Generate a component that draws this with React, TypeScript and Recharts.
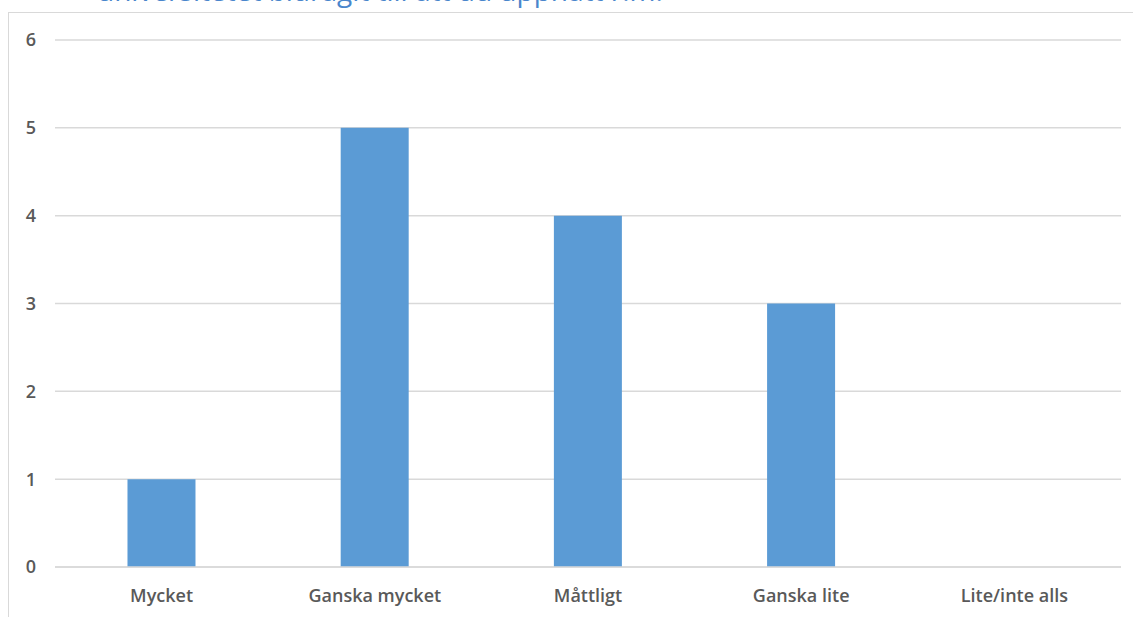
import { Bar, BarChart, CartesianGrid, XAxis, YAxis } from 'recharts';

const categories = ['Mycket', 'Ganska mycket', 'Måttligt', 'Ganska lite', 'Lite/inte alls'];
const answers = [1, 5, 4, 3, 0];
const yTicks = [0, 1, 2, 3, 4, 5, 6];
const title = 'universitetet bidragit till att du uppnått r.m.';

const rows = categories.map((name, i) => ({ name, value: answers[i] }));

const font = '"Open Sans", "DejaVu Sans", sans-serif';
const tick = { fontSize: 18, fontWeight: 600, fill: '#595959', fontFamily: font };

export default function App() {
  return (
    <div style={{ position: 'absolute', left: 0, top: 0, width: 1133, height: 617, overflow: 'hidden', background: '#fff' }}>
      {/* heading, partly cut off above the frame */}
      <div style={{ position: 'absolute', left: 0, top: 0, width: 1133, height: 12, overflow: 'hidden' }}>
        <div style={{ position: 'absolute', left: 97, top: -26, fontSize: 28, lineHeight: '32px', color: '#4a86cc', fontFamily: font, whiteSpace: 'nowrap' }}>
          {title}
        </div>
      </div>
      <div style={{ position: 'absolute', left: 8, top: 12, width: 1130, height: 610, border: '1px solid #d9d9d9', boxSizing: 'border-box' }} />
      <div style={{ position: 'absolute', left: 8, top: 12 }}>
        <BarChart width={1125} height={605} data={rows} margin={{ top: 28, right: 12, bottom: 0, left: 0 }} barCategoryGap="34%">
          <CartesianGrid vertical={false} stroke="#d9d9d9" strokeWidth={1.5} />
          <XAxis dataKey="name" height={50} tick={tick} tickLine={false} axisLine={{ stroke: '#d9d9d9', strokeWidth: 1.5 }} tickSize={0} tickMargin={22} />
          <YAxis ticks={yTicks} domain={[0, 6]} width={47} tick={tick} tickLine={false} axisLine={false} tickSize={0} tickMargin={19} />
          <Bar dataKey="value" fill="#5b9bd5" isAnimationActive={false} />
        </BarChart>
      </div>
    </div>
  );
}
